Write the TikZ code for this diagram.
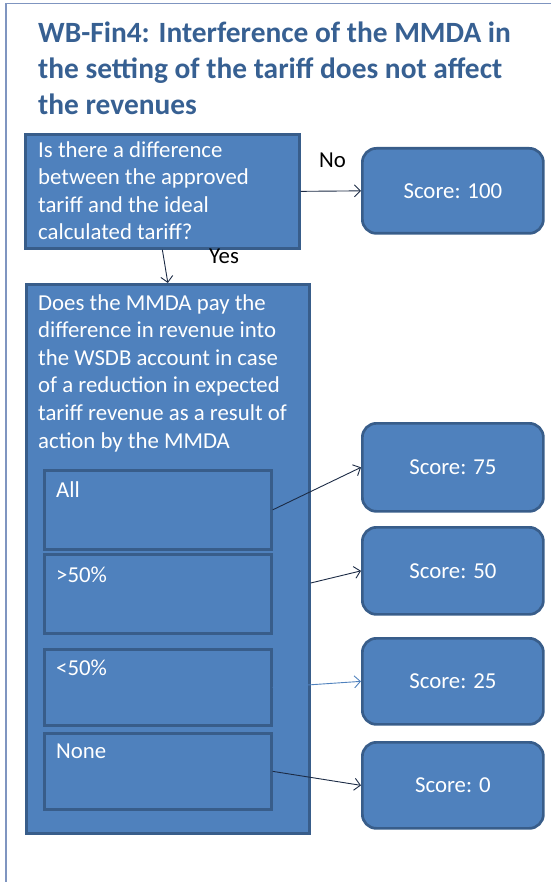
\documentclass[tikz,border=0pt]{standalone}
\usepackage{fontspec}
\setmainfont{Carlito}
\usetikzlibrary{arrows.meta}
\definecolor{boxfill}{HTML}{4F81BD}
\definecolor{boxline}{HTML}{385D8A}
\definecolor{titleblue}{HTML}{376092}
\definecolor{framecol}{HTML}{7F95C0}
\definecolor{arrowdark}{HTML}{1C2B45}
\newcommand\bodyfnt{\fontsize{22.8}{27.6}\selectfont}
\newcommand\titlefnt{\fontsize{29.4}{36}\selectfont\bfseries}
\begin{document}
\begin{tikzpicture}[x=1pt,y=-1pt,
  box/.style={draw=boxline, fill=boxfill, line width=2.7pt, inner sep=0pt, anchor=north west},
  scorebox/.style={box, rounded corners=14pt, minimum width=181pt, text=white, font=\bodyfnt},
  optbox/.style={box, minimum width=227pt},
  txt/.style={text=white, font=\bodyfnt, align=left, inner sep=0pt, anchor=base west},
  lbl/.style={text=black, font=\bodyfnt, inner sep=0pt, anchor=base west},
  conn/.style={draw=arrowdark, line width=0.9pt, -{Straight Barb[length=6pt,width=12pt]}}
]
\useasboundingbox (0,0) rectangle (551,882);

% page frame
\draw[framecol, line width=1.2pt] (6,882) -- (6,3.5) -- (551,3.5);

% heading (anchored at the baseline of its last line)
\node[text=titleblue, font=\titlefnt, align=left, inner sep=0pt, anchor=base west] (title) at (38,115)
  {WB-Fin4: Interference of the MMDA in\\the setting of the tariff does not affect\\the revenues};

% first question
\node[box, minimum width=274pt, minimum height=114pt] (q1) at (24,133) {};
\node[txt] (q1t) at (38,240) {Is there a difference\\between the approved\\tariff and the ideal\\calculated tariff?};

% second question with its answer boxes
\node[box, minimum width=283pt, minimum height=549pt] (q2) at (25,283) {};
\node[txt] (q2t) at (38,448) {Does the MMDA pay the\\difference in revenue into\\the WSDB account in case\\of a reduction in expected\\tariff revenue as a result of\\action by the MMDA};

\node[optbox, minimum height=79pt] (all) at (43,469) {};
\node[txt] (allt) at (56,497) {All};
\node[optbox, minimum height=79pt] (gt) at (43,553) {};
\node[txt] (gtt) at (56,582) {>50\%};
\node[optbox, minimum height=76pt] (lt) at (43,648) {};
\node[txt] (ltt) at (56,675) {<50\%};
\node[optbox, minimum height=76pt] (none) at (43,732) {};
\node[txt] (nonet) at (56,758) {None};

% scores
\node[scorebox, minimum height=85pt] (s100) at (361,147) {Score: 100};
\node[scorebox, minimum height=88pt] (s75) at (361,422) {Score: 75};
\node[scorebox, minimum height=87pt] (s50) at (361,526) {Score: 50};
\node[scorebox, minimum height=86pt] (s25) at (361,637) {Score: 25};
\node[scorebox, minimum height=86pt] (s0) at (361,741) {Score: 0};

% connectors
\draw[conn] (q1.east) -- (s100.west);
\node[lbl] (no) at (319,168) {No};
\draw[conn] (q1.south) -- (q2.north);
\node[lbl] (yes) at (209,263) {Yes};
\draw[conn] (all.east) -- (s75.west);
\coordinate (q2out) at (q2.east |- 0,583);
\draw[conn] (q2out) -- (s50.west);
\draw[conn, draw=boxfill] (lt.east) -- (s25.west);
\draw[conn] (none.east) -- (s0.west);
\end{tikzpicture}
\end{document}
